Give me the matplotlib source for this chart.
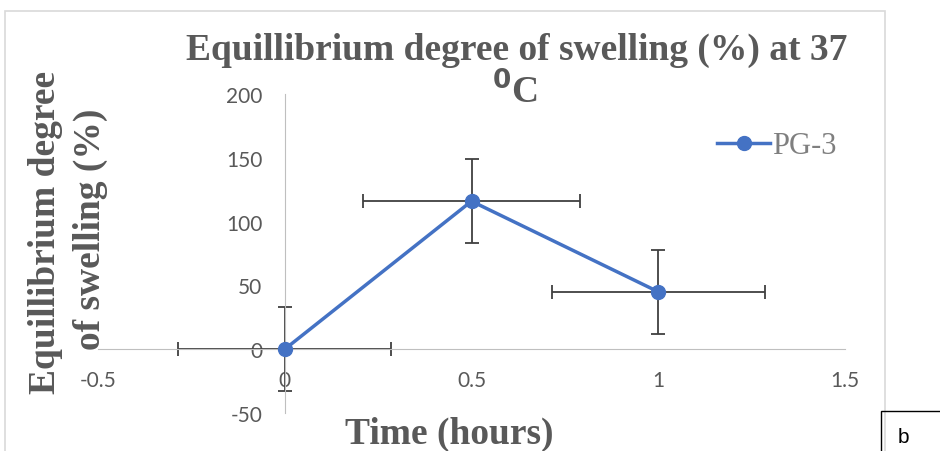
import matplotlib.pyplot as plt
from matplotlib.patches import Rectangle

plt.rcParams['axes.unicode_minus'] = False

# Data
time_h = [0, 0.5, 1]
swelling = [0, 116, 45]
y_err = [33, 33, 33]
x_err = [0.285, 0.29, 0.285]
x_ticks = [-0.5, 0, 0.5, 1, 1.5]
y_ticks = [-50, 0, 50, 100, 150, 200]

gray = '#595959'
serif = 'Liberation Serif'
sans = 'Lato'

fig = plt.figure(figsize=(9.4, 4.52), dpi=100)

# outer chart frame and the "b" label box
fig.patches.append(Rectangle((5 / 940, -0.01), 880 / 940, 1 - 12 / 452 + 0.01,
                             transform=fig.transFigure, fill=False,
                             edgecolor='#d9d9d9', lw=1.2))
fig.patches.append(Rectangle((881 / 940, -0.01), 0.2, 1 - 412 / 452 + 0.01,
                             transform=fig.transFigure, fill=False,
                             edgecolor='black', lw=1.0, zorder=5))
fig.text(903 / 940, 1 - 438 / 452, 'b', fontsize=15, family='Liberation Sans',
         ha='center', va='center')

ax = fig.add_axes([98 / 940, 38 / 452, 747 / 940, 319 / 452])
ax.errorbar(time_h, swelling, yerr=y_err, xerr=x_err, fmt='none',
            ecolor='#404040', elinewidth=1.3, capsize=5, capthick=1.3, zorder=2)
ax.plot(time_h, swelling, color='#4472C4', lw=2.5, marker='o', markersize=10,
        label='PG-3', zorder=3)

ax.set_xlim(-0.5, 1.5)
ax.set_ylim(-50, 200)
ax.set_xticks(x_ticks)
ax.set_xticklabels(['-0.5', '0', '0.5', '1', '1.5'])
ax.set_yticks(y_ticks)

for s in ['top', 'right']:
    ax.spines[s].set_visible(False)
ax.spines['left'].set_position(('data', 0))
ax.spines['bottom'].set_position(('data', 0))
ax.spines['left'].set_color('#bfbfbf')
ax.spines['bottom'].set_color('#bfbfbf')
ax.tick_params(axis='x', length=0, pad=15, labelsize=15, labelcolor=gray)
ax.tick_params(axis='y', length=0, pad=16, labelsize=15, labelcolor=gray)
for lbl in ax.get_xticklabels() + ax.get_yticklabels():
    lbl.set_family(sans)

fig.text(517 / 940, 1 - 50 / 452, 'Equillibrium degree of swelling (%) at 37',
         fontsize=27, fontweight='bold', family=serif, color=gray,
         ha='center', va='center')
fig.text(515 / 940, 1 - 92 / 452, r'$^{\mathbf{0}}$C', fontsize=27,
         fontweight='bold', family=serif, color=gray, ha='center', va='center')

# y label as two separate lines so each keeps its own extent
fig.text(46 / 940, 1 - 232 / 452, 'Equillibrium degree',
         fontsize=27, fontweight='bold', family=serif, color=gray,
         rotation=90, ha='center', va='center')
fig.text(90 / 940, 1 - 229 / 452, 'of swelling (%)',
         fontsize=27, fontweight='bold', family=serif, color=gray,
         rotation=90, ha='center', va='center')
fig.text(449 / 940, 1 - 434 / 452, 'Time (hours)', fontsize=27,
         fontweight='bold', family=serif, color=gray, ha='center', va='center')

leg = ax.legend(loc='center left', bbox_to_anchor=(717 / 940, 1 - 147 / 452),
                bbox_transform=fig.transFigure, frameon=False,
                prop={'family': serif, 'size': 22}, handlelength=1.75,
                handletextpad=0.05, borderpad=0, borderaxespad=0)
for t in leg.get_texts():
    t.set_color('#7f7f7f')

fig.savefig('out.png', dpi=100)
